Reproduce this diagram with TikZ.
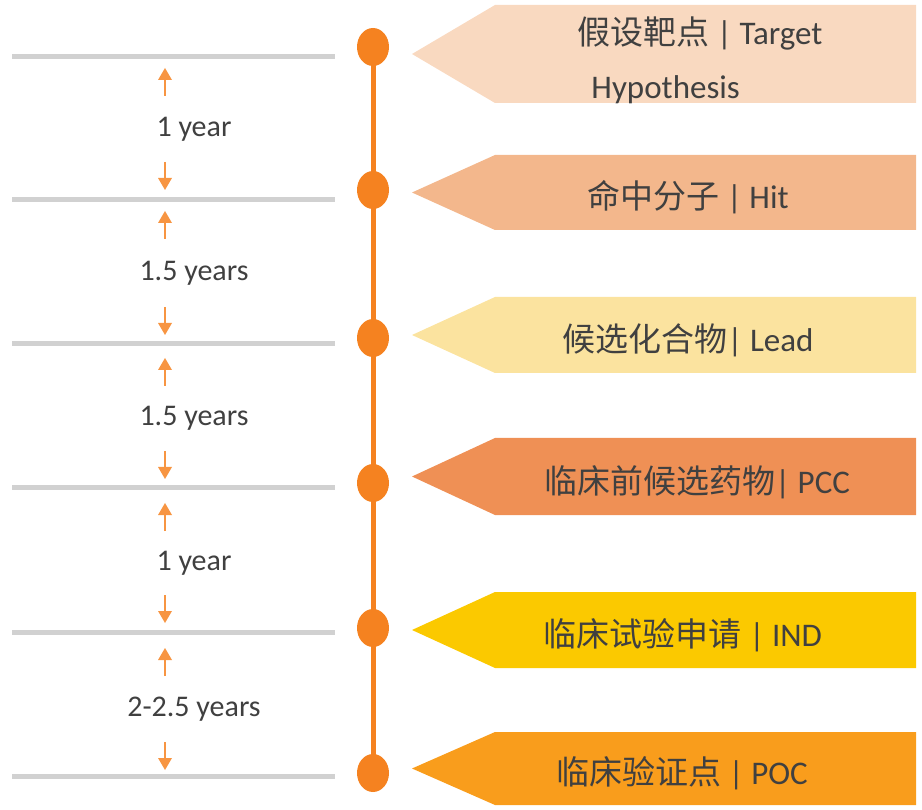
\documentclass[tikz,border=0pt]{standalone}
\usepackage{fontspec}
\setmainfont{Carlito}
\newfontfamily\cjk{Noto Sans CJK SC}
\begin{document}
\begin{tikzpicture}[x=1pt,y=-1pt,
  gline/.style={line width=5pt,draw=black!18},
  dot/.style={ellipse,minimum width=32pt,minimum height=38pt,inner sep=0},
  lab/.style={text=black!75,font=\fontsize{30}{34}\selectfont},
  btxt/.style={text=black!75,font=\fontsize{33}{54}\selectfont,align=center}]
\usetikzlibrary{arrows.meta,shapes.geometric}
\useasboundingbox (0,0) rectangle (922,810);
\definecolor{o}{HTML}{F58220}
\draw[o,line width=5pt] (373,45) -- (373,775);
\foreach \y/\g [count=\i] in {47/57,190/200,338/344,483/488,628/632,773/776}{
  \node[dot,fill=o] (d\i) at (373,\y) {};
  \draw[gline] (12,\g) -- (335,\g);
}
\foreach \a/\b/\t [count=\i] in {68/190/1 year,211/335/1.5 years,358/479/1.5 years,503/623/1 year,648/770/2-2.5 years}{
  \pgfmathsetmacro\m{(\a+\b)/2}
  \node[lab] (l\i) at (194,\m) {\t};
  \draw[o!85,line width=2.5pt] (165,\a+28) -- (165,\a+8);
  \fill[o!85] (165,\a) -- (158,\a+12) -- (172,\a+12) -- cycle;
  \draw[o!85,line width=2.5pt] (165,\b-28) -- (165,\b-8);
  \fill[o!85] (165,\b) -- (158,\b-12) -- (172,\b-12) -- cycle;
}
\foreach \t/\bb/\c [count=\i] in {5/103/F9D9C0,155/230/F3B78C,297/373/FBE39F,438/515/EF9055,592/668/FBC900,732/805/F99D1C}{
  \definecolor{bc\i}{HTML}{\c}
  \pgfmathsetmacro\m{(\t+\bb)/2}
  \fill[bc\i] (412,\m) -- (495,\t) -- (916,\t) -- (916,\bb) -- (495,\bb) -- cycle;
}
\node[btxt,align=left] (b1) at (700,60) {{\cjk 假设靶点} | Target\\\hspace*{14pt}Hypothesis};
\node[btxt] (b2) at (688,197) {{\cjk 命中分子} | Hit};
\node[btxt] (b3) at (688,340) {{\cjk 候选化合物}| Lead};
\node[btxt] (b4) at (697,482) {{\cjk 临床前候选药物}| PCC};
\node[btxt] (b5) at (683,635) {{\cjk 临床试验申请} | IND};
\node[btxt] (b6) at (682,773) {{\cjk 临床验证点} | POC};
\end{tikzpicture}
\end{document}
